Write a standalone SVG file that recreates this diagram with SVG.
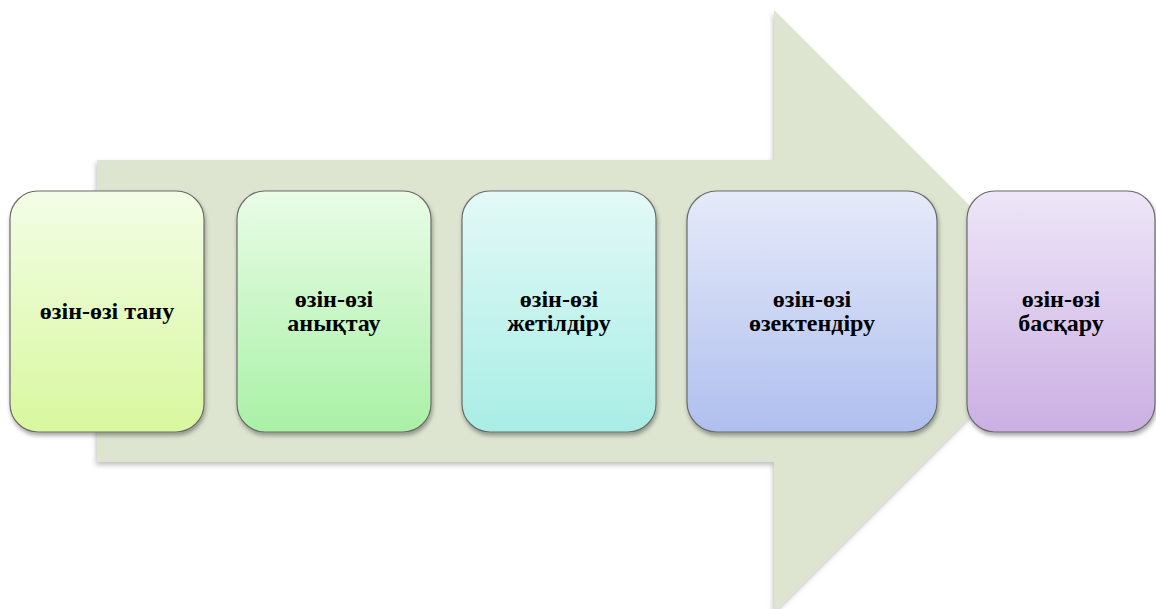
<svg xmlns="http://www.w3.org/2000/svg" width="1156" height="609" viewBox="0 0 1156 609">
<defs>
<style>
.box{stroke:#6b6b6b;stroke-width:1.2;filter:url(#sh)}
.lbl{font-family:"Liberation Serif","Times New Roman",serif;font-weight:bold;font-size:24px;fill:#000;text-anchor:middle}
</style>
<filter id="sh" x="-10%" y="-10%" width="125%" height="125%">
<feDropShadow dx="1" dy="3" stdDeviation="2" flood-color="#000" flood-opacity="0.35"/>
</filter>
<filter id="ash" x="-5%" y="-5%" width="115%" height="115%">
<feDropShadow dx="-1" dy="3" stdDeviation="2.5" flood-color="#000" flood-opacity="0.25"/>
</filter>
<linearGradient id="g1" x1="0" y1="0" x2="0" y2="1"><stop offset="0" stop-color="#f3fde7"/><stop offset="1" stop-color="#d8f89e"/></linearGradient>
<linearGradient id="g2" x1="0" y1="0" x2="0" y2="1"><stop offset="0" stop-color="#e9fce7"/><stop offset="1" stop-color="#a9f1a6"/></linearGradient>
<linearGradient id="g3" x1="0" y1="0" x2="0" y2="1"><stop offset="0" stop-color="#e3f9f7"/><stop offset="1" stop-color="#a8ede5"/></linearGradient>
<linearGradient id="g4" x1="0" y1="0" x2="0" y2="1"><stop offset="0" stop-color="#e6eaf9"/><stop offset="1" stop-color="#afbfee"/></linearGradient>
<linearGradient id="g5" x1="0" y1="0" x2="0" y2="1"><stop offset="0" stop-color="#eee6f8"/><stop offset="1" stop-color="#cbafe3"/></linearGradient>
</defs>
<rect width="1156" height="609" fill="#fff"/>
<g id="arrow">
<path d="M97,160 L774,160 L774,10 L1075,311 L774,612 L774,462 L97,462 Z" fill="#dde5d0" filter="url(#ash)"/>
</g>
<g id="connectors"></g>
<g id="n1">
<rect class="box" x="10" y="191" width="194" height="241" rx="28" fill="url(#g1)"/>
<text class="lbl" x="107" y="319">өзін-өзі тану</text>
</g>
<g id="n2">
<rect class="box" x="237" y="191" width="194" height="241" rx="28" fill="url(#g2)"/>
<text class="lbl" x="334" y="307">өзін-өзі</text>
<text class="lbl" x="334" y="331">анықтау</text>
</g>
<g id="n3">
<rect class="box" x="462" y="191" width="194" height="241" rx="28" fill="url(#g3)"/>
<text class="lbl" x="559" y="307">өзін-өзі</text>
<text class="lbl" x="559" y="331">жетілдіру</text>
</g>
<g id="n4">
<rect class="box" x="687" y="191" width="250" height="241" rx="30" fill="url(#g4)"/>
<text class="lbl" x="812" y="307">өзін-өзі</text>
<text class="lbl" x="812" y="331">өзектендіру</text>
</g>
<g id="n5">
<rect class="box" x="967" y="191" width="188" height="241" rx="28" fill="url(#g5)"/>
<text class="lbl" x="1061" y="307">өзін-өзі</text>
<text class="lbl" x="1061" y="331">басқару</text>
</g>
</svg>
